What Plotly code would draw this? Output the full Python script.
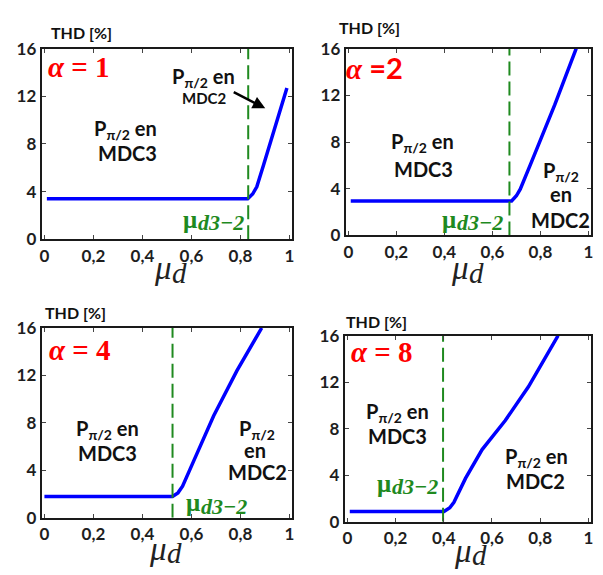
import plotly.graph_objects as go

W, H = 603, 575

# ---------------- data ----------------
mu_tickvals = [0, 0.2, 0.4, 0.6, 0.8, 1]
mu_ticktext = ["0", "0,2", "0,4", "0,6", "0,8", "1"]
thd_tickvals = [0, 4, 8, 12, 16]
thd_ticktext = ["0", "4", "8", "12", "16"]

alpha_labels = ["1", "2", "4", "8"]

mu_a1 = [0.01, 0.83, 0.85, 0.867, 0.894, 0.99]
thd_a1 = [3.4, 3.4, 3.8, 4.4, 6.2, 12.7]

mu_a2 = [0.01, 0.68, 0.70, 0.716, 0.763, 0.86, 0.949]
thd_a2 = [2.95, 2.95, 3.4, 3.96, 6.3, 11.2, 16.0]

mu_a4 = [0.0, 0.523, 0.545, 0.564, 0.61, 0.691, 0.786, 0.887]
thd_a4 = [1.8, 1.8, 2.1, 2.66, 4.82, 8.6, 12.4, 16.0]

mu_a8 = [0.01, 0.401, 0.425, 0.442, 0.49, 0.559, 0.655, 0.751, 0.874]
thd_a8 = [0.88, 0.88, 1.2, 1.66, 3.72, 6.2, 8.7, 11.6, 16.0]

mu_d32 = [0.832, 0.671, 0.523, 0.397]   # boundary MDC3 -> MDC2

series_mu = [mu_a1, mu_a2, mu_a4, mu_a8]
series_thd = [thd_a1, thd_a2, thd_a4, thd_a8]

# ---------------- layout helpers ----------------
BLUE = "#0000ff"
GREEN = "#1f8a1f"
RED = "#ff0000"
TXT = "#111111"
TICK = "#1e1e1e"

# plot boxes in pixels: (left, right, top, bottom)
boxes = [(40, 292, 39, 237), (346, 593, 39, 233), (40, 292, 329, 526), (345, 593, 337, 530)]


def px(x, y):
    return x / W, 1 - y / H


fig = go.Figure()

for i in range(4):
    xa = "x" if i == 0 else f"x{i+1}"
    ya = "y" if i == 0 else f"y{i+1}"
    fig.add_trace(go.Scatter(x=series_mu[i], y=series_thd[i], mode="lines",
                             line=dict(color=BLUE, width=3.5),
                             xaxis=xa, yaxis=ya, showlegend=False, hoverinfo="skip"))
    fig.add_trace(go.Scatter(x=[mu_d32[i], mu_d32[i]], y=[thd_tickvals[0], thd_tickvals[-1]],
                             mode="lines", line=dict(color=GREEN, width=2, dash="14px,6px"),
                             xaxis=xa, yaxis=ya, showlegend=False, hoverinfo="skip"))

layout = dict(width=W, height=H, margin=dict(l=0, r=0, t=0, b=0),
              paper_bgcolor="white", plot_bgcolor="white", showlegend=False)

for i, (l, r, t, b) in enumerate(boxes):
    xk = "xaxis" if i == 0 else f"xaxis{i+1}"
    yk = "yaxis" if i == 0 else f"yaxis{i+1}"
    ya = "y" if i == 0 else f"y{i+1}"
    xa = "x" if i == 0 else f"x{i+1}"
    common = dict(showgrid=False, zeroline=False, showline=True, mirror="ticks",
                  linecolor="#1a1a1a", linewidth=2, ticks="inside", ticklen=4,
                  tickwidth=1, tickcolor="#444",
                  tickfont=dict(family="Lato", size=17, color=TICK, weight="bold"))
    layout[xk] = dict(domain=[l / W, r / W], range=[-0.011, 1.011], anchor=ya,
                      tickvals=mu_tickvals, ticktext=[f"<b>{t_}</b>" for t_ in mu_ticktext],
                      **common)
    layout[yk] = dict(domain=[1 - b / H, 1 - t / H], range=[0, 16], anchor=xa,
                      tickvals=thd_tickvals, ticktext=[f"<b>{t_}</b>" for t_ in thd_ticktext],
                      **common)

fig.update_layout(**layout)

ann = []


def add_text(x, y, text, size, color=TXT, family="Lato", xanchor="center"):
    xp, yp = px(x, y)
    ann.append(dict(x=xp, y=yp, xref="paper", yref="paper", text=text, showarrow=False,
                    xanchor=xanchor, yanchor="middle", borderpad=0,
                    font=dict(family=family, size=size, color=color)))


P_EN = "<b>P<sub>π/2</sub> en</b>"
P_ONLY = "<b>P<sub>π/2</sub></b>"
SERIF = "Liberation Serif"

# THD labels
for (x, y) in [(80, 22), (370, 17), (74, 313), (377, 322)]:
    add_text(x, y, "<b>THD [%]</b>", 16)

# alpha labels
add_text(78, 58, f"<b><i>α</i> = {alpha_labels[0]}</b>", 29, RED, SERIF)
add_text(375, 59, f"<b><i>α</i> <span style='font-family:Lato'>={alpha_labels[1]}</span></b>", 29, RED, SERIF)
add_text(79, 352, f"<b><i>α</i> = {alpha_labels[2]}</b>", 29, RED, SERIF)
add_text(383, 354, f"<b><i>α</i> = {alpha_labels[3]}</b>", 29, RED, SERIF)

# mu_d axis titles (mu + large subscript d)
for (x, y) in [(152, 267), (451, 267), (147, 558), (454, 560)]:
    add_text(x, y, "<i>μ</i>", 33, "#222", SERIF, "left")
    add_text(x + 18, y + 5, "<i>d</i>", 29, "#222", SERIF, "left")

# mu_d3-2 labels
for (x, y) in [(181, 216), (442, 216), (184, 510), (377, 490)]:
    add_text(x, y, "<b>μ</b>", 25, GREEN, SERIF, "left")
    add_text(x + 15, y + 4, "<b><i>d3−2</i></b>", 22, GREEN, SERIF, "left")

# region labels panel 1
add_text(124, 123, P_EN, 20)
add_text(126, 147, "<b>MDC3</b>", 20)
add_text(203, 69, P_EN, 20)
add_text(204, 90, "<b>MDC2</b>", 15)
# panel 2
add_text(423, 137, P_EN, 20)
add_text(424, 164, "<b>MDC3</b>", 20)
add_text(563, 167, P_ONLY, 20)
add_text(563, 190, "<b>en</b>", 20)
add_text(562, 217, "<b>MDC2</b>", 20)
# panel 3
add_text(106, 434, P_EN, 20)
add_text(106, 459, "<b>MDC3</b>", 20)
add_text(257, 434, P_ONLY, 20)
add_text(255, 456, "<b>en</b>", 20)
add_text(257, 478, "<b>MDC2</b>", 20)
# panel 4
add_text(398, 417, P_EN, 20)
add_text(398, 441, "<b>MDC3</b>", 20)
add_text(538, 463, P_EN, 20)
add_text(537, 488, "<b>MDC2</b>", 20)

# arrow in panel 1
hx, hy = px(265, 101)
ann.append(dict(x=hx, y=hy, xref="paper", yref="paper", ax=-33, ay=-17,
                axref="pixel", ayref="pixel", text="", showarrow=True,
                arrowhead=2, arrowsize=1, arrowwidth=2.5, arrowcolor="#000"))

fig.update_layout(annotations=ann)

fig.write_html("out.html")
